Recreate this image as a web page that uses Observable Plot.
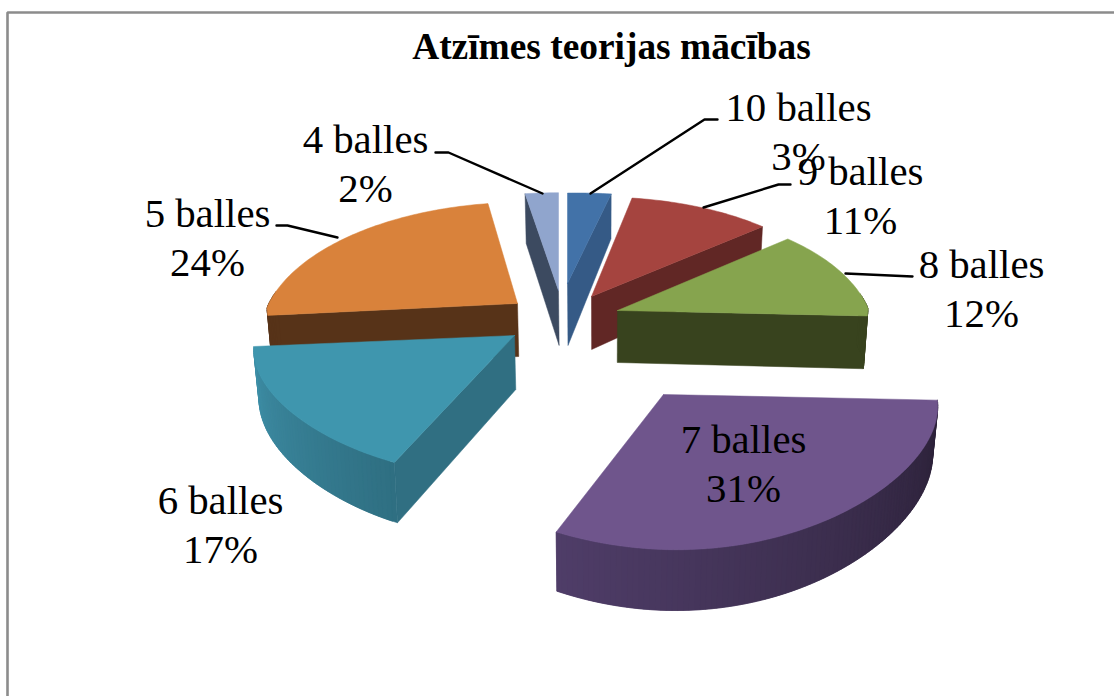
<!DOCTYPE html>
<html><head><meta charset="utf-8">
<style>html,body{margin:0;padding:0;background:#fff;overflow:hidden}svg{display:block}</style>
<script src="https://cdn.jsdelivr.net/npm/d3@7"></script>
<script src="https://cdn.jsdelivr.net/npm/@observablehq/plot@0.6"></script>
</head><body><script>
// Data (clockwise from twelve o'clock)
const categories = ["10 balles","9 balles","8 balles","7 balles","6 balles","5 balles","4 balles"];
const shares = [3,11,12,31,17,24,2];
const chartTitle = "Atzīmes teorijas mācības";

// Styles
const topColors  = ["#4272a8","#a5443f","#86a44e","#6f558c","#3f96ae","#d9823b","#90a5cd"];
const wallColors = ["#355a86","#612725","#38431e","#000000","#306f82","#573318","#3c4a60"];
const rimFrom    = ["#355a86","#612725","#38431e","#4f3d68","#2f6f82","#573318","#3c4a60"];
const rimTo      = ["#355a86","#612725","#38431e","#2a2036","#3f90a8","#573318","#3c4a60"];

// Layout of the exploded 3-D pie: where each slice's tip sits and how the plane is foreshortened
const tipX   = [567,591,617,663,514,517,558];
const tipY   = [283,296,310,394,335,303,290];
const radX   = [288,255,253,275,262,253,330];
const radY   = [111,122,125,120,110,124,120];
const lean   = [0,2,3,-16,0,-4,0];
const bulge  = [0,0,0,15,25,0,0];
const roll   = [2.5,2.5,2.5,2,4,4,2.5];
const thick  = [55,53,52,47,48,53,61];
const tipDepth = [62,53,52,47,54,53,55];
const wallAt = ["end","end","end",null,"start","start","start"];
const paintOrder = [6,0,1,5,2,4,3];
const persp = 0.227, tilt = 2.5, baseCx = 600, baseShrink = 0.985;

const arcs = d3.pie().sort(null).value(d => d)(shares);
const project = (i, th, r = 1) => {
  const X = r * Math.sin(th), Y = r * Math.cos(th), w = 1 + persp * Y, wx = Y > 0 ? w : 1;
  const front = Y < 0 ? bulge[i] * X * -Y : 0;
  return [tipX[i] + radX[i] * X / wx + front + lean[i] * Y - tilt * X, tipY[i] - radY[i] * Y / w - roll[i] * X];
};
const depth = (i, th, r = 1) => r === 0 ? tipDepth[i] : thick[i] / (1 + persp * r * Math.cos(th));
const lower = (i, th, r = 1) => {
  const [x, y] = project(i, th, r);
  return [baseCx + (x - baseCx) * baseShrink, y + depth(i, th, r)];
};

const polys = [];
const addPoly = (pts, color) => {
  const id = polys.length ? polys[polys.length - 1].id + 1 : 0;
  [...pts, pts[0]].forEach(p => polys.push({id, px: p[0], py: p[1], color}));
};
for (const i of paintOrder) {
  const {startAngle: a0, endAngle: a1} = arcs[i];
  const edge = wallAt[i] === "end" ? a1 : a0;
  if (wallAt[i]) addPoly([project(i, edge, 0), project(i, edge), lower(i, edge), lower(i, edge, 0)], wallColors[i]);
  const steps = Math.max(6, Math.ceil((a1 - a0) / 0.02));
  const dt = (a1 - a0) / steps;
  const shade = d3.interpolateRgb(rimFrom[i], rimTo[i]);
  for (let s = 0; s < steps; s++) {
    const t0 = a0 + dt * s, t1 = Math.min(a1, a0 + dt * (s + 2));
    if (Math.cos(t0 + dt / 2) > 0.12) continue;
    const u = i === 3 ? 1 - (s + .5) / steps : (s + .5) / steps;
    addPoly([project(i, t0), project(i, t1), lower(i, t1), lower(i, t0)], shade(u));
  }
  const face = [project(i, a0, 0)];
  for (let s = 0; s <= steps; s++) face.push(project(i, a0 + dt * s));
  addPoly(face, topColors[i]);
}

// Label layout
const labelX = [798,860,981,743,220,207,365];
const labelY = [120,184,277,452,513,226,152];
const lineGap = 49;
const labels = categories.flatMap((c, i) => [
  {t: c, lx: labelX[i], ly: labelY[i]},
  {t: shares[i] + "%", lx: labelX[i], ly: labelY[i] + lineGap}
]);
const leaderX = [[590,704,717],[703,778,790],[845,912],[],[],[337,287,276],[542,448,435]];
const leaderY = [[193,119,119],[207,184,184],[273,276],[],[],[237,225,225],[193,152,152]];
const leaders = leaderX.flatMap((xs, i) => xs.map((x, k) => ({i, x, y: leaderY[i][k]})));
const frame = [{x: 7, y: 696}, {x: 7, y: 12}, {x: 1114, y: 12}];

const plot = Plot.plot({
  width: 1114, height: 696, margin: 0,
  x: {domain: [0, 1114], range: [0, 1114], axis: null},
  y: {domain: [0, 696], range: [0, 696], axis: null},
  style: {background: "#fff"},
  marks: [
    Plot.line(frame, {x: "x", y: "y", stroke: "#8c8c8c", strokeWidth: 2.6, strokeLinecap: "butt", strokeLinejoin: "miter"}),
    Plot.line(polys, {x: "px", y: "py", z: "id", fill: "color", stroke: "color", strokeWidth: 0.5, curve: "linear"}),
    Plot.line(leaders, {x: "x", y: "y", z: "i", stroke: "#000", strokeWidth: 2.4, curve: "linear"}),
    Plot.text(labels, {x: "lx", y: "ly", text: "t", lineAnchor: "bottom", textAnchor: "middle", fontFamily: "Liberation Serif", fontSize: 40.8, fill: "#000"}),
    Plot.text([chartTitle], {x: () => 611, y: () => 58, text: d => d, lineAnchor: "bottom", textAnchor: "middle", fontFamily: "Liberation Serif", fontWeight: "bold", fontSize: 37.4, fill: "#000"})
  ]
});
document.body.appendChild(plot);
</script></body></html>
